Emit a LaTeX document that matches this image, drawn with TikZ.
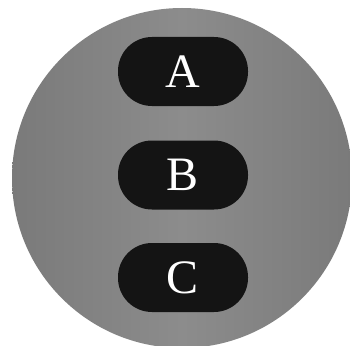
\documentclass[tikz,border=0pt]{standalone}
\usepackage{fontspec}
\setmainfont{Liberation Serif}
\definecolor{discside}{RGB}{122,122,122}
\definecolor{discmid}{RGB}{140,140,140}
\definecolor{pill}{RGB}{20,20,20}
\begin{document}
\begin{tikzpicture}[x=1pt,y=-1pt,
  pillbox/.style={rectangle, rounded corners=34pt, fill=pill, minimum width=130pt, minimum height=69pt, inner sep=0pt, text=white, font=\fontsize{48}{48}\selectfont}]
\useasboundingbox (0,0) rectangle (350,345);
\fill[white] (0,0) rectangle (350,345);
\begin{scope}
\clip (0,0) rectangle (350,345);
\node[circle, minimum size=340pt, inner sep=0pt, left color=discside, right color=discside, middle color=discmid] (disc) at (182,178) {};
\end{scope}
\node[pillbox] (a) at (183,71.5) {A};
\node[pillbox] (b) at (183,175) {B};
\node[pillbox] (c) at (183,277.5) {C};
\end{tikzpicture}
\end{document}
